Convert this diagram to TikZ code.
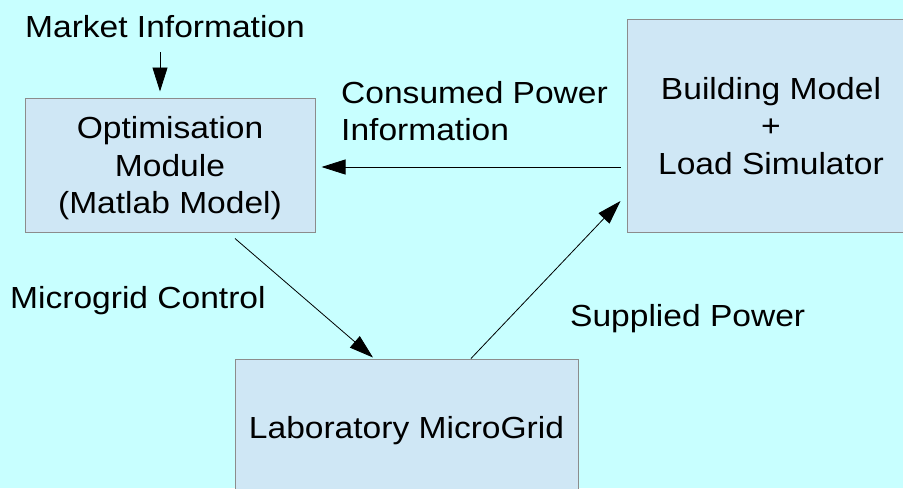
\documentclass[tikz,border=0pt]{standalone}
\usepackage{fontspec}
\setmainfont{Liberation Sans}[FakeStretch=1.1]
\usetikzlibrary{arrows.meta}
\definecolor{bgcyan}{HTML}{C8FFFF}
\definecolor{boxfill}{HTML}{CFE7F5}
\definecolor{boxline}{HTML}{8C8C8C}
\begin{document}
\begin{tikzpicture}[x=1pt,y=-1pt,
  every node/.style={font=\fontsize{30.5}{37.5}\selectfont, inner sep=0pt},
  block/.style={draw=boxline, line width=1pt, fill=boxfill, align=center, text depth=0pt},
  caption/.style={align=left},
  flow/.style={draw=black, line width=0.8pt, -{Triangle[length=24pt,width=15pt]}}]
  % canvas
  \useasboundingbox (0,0) rectangle (903,488);
  \fill[bgcyan] (0,0) rectangle (903,488);

  % blocks
  \node[block, minimum width=290pt, minimum height=134pt] (opt) at (170,165)
    {Optimisation\\Module\\(Matlab Model)};
  \node[block, minimum width=288pt, minimum height=213pt] (bldg) at (771,125.5)
    {Building Model\\+\\Load Simulator};
  \node[block, minimum width=343pt, minimum height=136pt] (lab) at (406.5,427)
    {Laboratory MicroGrid};

  % captions
  \node[anchor=base] (market) at (165,37) {Market Information};
  \node[caption, anchor=north west] (consumed) at (341,81) {Consumed Power\\Information};
  \node[anchor=base west] (control) at (10,308) {Microgrid Control};
  \node[anchor=base west] (supplied) at (570,326) {Supplied Power};

  % connectors
  \draw[flow] ([xshift=-5pt,yshift=-15pt]market.base) -- ([xshift=-10pt,yshift=6pt]opt.north);
  \draw[flow] ([xshift=-6pt,yshift=-41.5pt]bldg.west) -- ([xshift=6pt,yshift=-2pt]opt.east);
  \draw[flow] ([xshift=65pt,yshift=-6pt]opt.south) -- ([xshift=-33.5pt,yshift=1pt]lab.north);
  \draw[flow] ([xshift=64.5pt]lab.north) -- ([xshift=-6pt,yshift=-75.5pt]bldg.west);
\end{tikzpicture}
\end{document}
